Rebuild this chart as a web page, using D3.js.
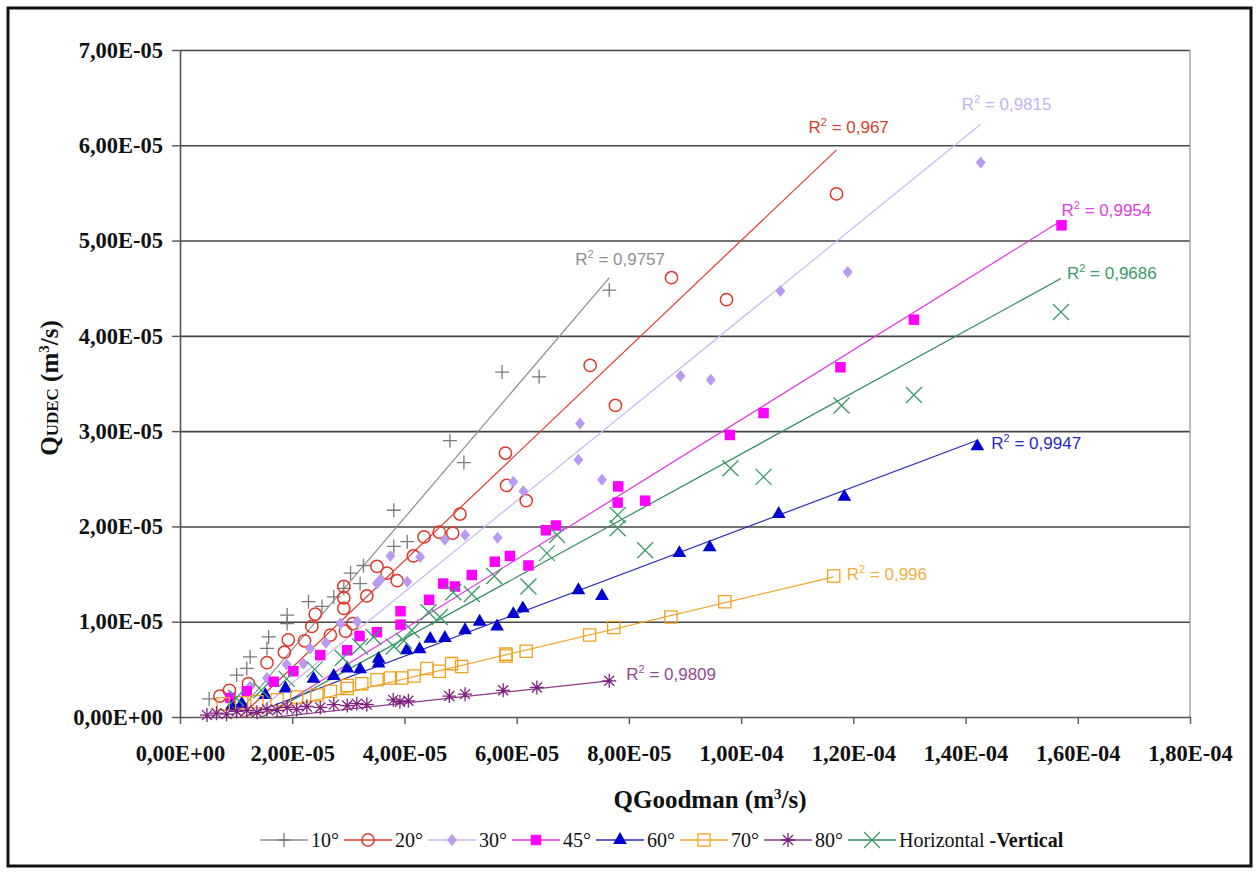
<!DOCTYPE html>
<html>
<head>
<meta charset="utf-8">
<script src="https://cdn.jsdelivr.net/npm/d3@7"></script>
<style>
  body { margin: 0; background: #fff; }
</style>
</head>
<body>
<svg id="chart" width="1259" height="872"></svg>
<script>
var U = 1e-5;

var seriesNames = ["10°", "20°", "30°", "45°", "60°", "70°", "80°", "Horizontal"];
var r2Values = ["0,9757", "0,967", "0,9815", "0,9954", "0,9947", "0,996", "0,9809", "0,9686"];
// linear trendlines y = a*x + b (same units)
var trendSlope = [0.69, 0.56, 0.478, 0.366, 0.222, 0.14, 0.064, 0.323];
var trendIntercept = [-0.67, -0.60, -0.60, -0.54, -0.25, -0.16, -0.11, -0.47];

var xTickValues = [0, 2e-5, 4e-5, 6e-5, 8e-5, 1e-4, 1.2e-4, 1.4e-4, 1.6e-4, 1.8e-4];
var yTickValues = [0, 1e-5, 2e-5, 3e-5, 4e-5, 5e-5, 6e-5, 7e-5];

var pts10 = [[0.52,0.19],[1.01,0.44],[1.19,0.51],[1.25,0.63],[1.55,0.72],[1.58,0.84],[1.91,0.98],[1.91,1.07],
  [2.29,1.21],[2.53,1.16],[2.74,1.26],[2.92,1.35],[3.04,1.51],[3.21,1.40],[3.27,1.59],[3.81,1.79],[4.05,1.84],
  [3.81,2.17],[4.81,2.90],[5.06,2.67],[5.74,3.62],[6.40,3.57],[7.65,4.48]];
var pts20 = [[0.71,0.22],[0.88,0.28],[1.22,0.35],[1.55,0.57],[1.86,0.68],[1.93,0.81],[2.22,0.80],[2.35,0.95],
  [2.41,1.08],[2.68,0.86],[2.92,1.14],[2.92,1.25],[2.92,1.37],[2.95,0.90],[3.08,0.98],[3.33,1.27],[3.51,1.58],
  [3.69,1.51],[3.87,1.43],[4.16,1.69],[4.35,1.89],[4.62,1.94],[4.86,1.93],[4.99,2.13],[5.80,2.77],[5.82,2.43],
  [6.17,2.27],[7.31,3.69],[7.76,3.27],[8.76,4.61],[9.74,4.38],[11.70,5.49]];
var pts30 = [[0.90,0.22],[1.25,0.32],[1.55,0.41],[1.90,0.55],[2.20,0.56],[2.32,0.72],[2.60,0.78],[2.86,0.98],
  [3.16,1.00],[3.51,1.40],[3.57,1.44],[3.75,1.69],[4.05,1.42],[4.28,1.68],[4.72,1.86],[5.08,1.91],[5.66,1.88],
  [5.94,2.47],[6.12,2.37],[7.10,2.70],[7.13,3.08],[7.52,2.49],[8.92,3.58],[9.46,3.54],[10.70,4.47],[11.90,4.67],
  [14.27,5.82]];
var pts45 = [[0.90,0.20],[1.19,0.27],[1.67,0.37],[2.02,0.48],[2.50,0.65],[2.98,0.70],[3.20,0.85],[3.51,0.89],
  [3.93,1.11],[3.93,0.97],[4.44,1.23],[4.69,1.40],[4.90,1.37],[5.20,1.49],[5.61,1.63],[5.88,1.69],[6.21,1.59],
  [6.52,1.96],[6.70,2.01],[7.80,2.25],[7.81,2.42],[8.29,2.27],[9.80,2.96],[10.40,3.19],[11.77,3.67],[13.08,4.17],
  [15.71,5.16]];
var pts60 = [[0.92,0.11],[1.10,0.14],[1.52,0.23],[1.88,0.30],[2.38,0.40],[2.74,0.43],[2.98,0.51],[3.21,0.50],
  [3.54,0.61],[3.54,0.56],[4.04,0.70],[4.27,0.71],[4.46,0.82],[4.72,0.83],[5.08,0.91],[5.34,1.00],[5.65,0.95],
  [5.94,1.08],[6.11,1.14],[7.10,1.33],[7.52,1.27],[8.90,1.72],[9.44,1.78],[10.67,2.13],[11.84,2.31],[14.21,2.84]];
var pts70 = [[0.77,0.14],[1.10,0.15],[1.37,0.16],[1.73,0.18],[2.08,0.21],[2.44,0.23],[2.68,0.27],[2.98,0.30],
  [2.98,0.33],[3.24,0.35],[3.51,0.39],[3.75,0.41],[3.95,0.41],[4.17,0.43],[4.40,0.51],[4.62,0.48],[4.84,0.56],
  [5.02,0.53],[5.81,0.66],[5.81,0.64],[6.17,0.69],[7.30,0.86],[7.73,0.94],[8.75,1.05],[9.71,1.21],[11.65,1.48]];
var pts80 = [[0.48,0.02],[0.65,0.04],[0.83,0.03],[1.01,0.06],[1.19,0.07],[1.37,0.05],[1.55,0.08],[1.73,0.07],
  [1.91,0.10],[2.08,0.08],[2.26,0.11],[2.50,0.10],[2.74,0.13],[2.98,0.12],[3.15,0.14],[3.33,0.13],[3.80,0.18],
  [3.92,0.16],[4.07,0.17],[4.80,0.22],[5.08,0.24],[5.76,0.28],[6.36,0.31],[7.65,0.38]];
var ptsHV = [[1.00,0.20],[1.45,0.28],[1.90,0.40],[2.40,0.50],[2.90,0.62],[3.21,0.74],[3.45,0.84],[3.81,0.74],
  [3.99,0.80],[4.13,0.91],[4.43,1.10],[4.63,1.05],[4.87,1.31],[5.20,1.29],[5.60,1.48],[6.21,1.37],[6.54,1.72],
  [6.72,1.91],[7.80,1.98],[7.80,2.12],[8.29,1.75],[9.81,2.61],[10.40,2.52],[11.79,3.27],[13.08,3.38],[15.70,4.25]];

var seriesPoints = [pts10, pts20, pts30, pts45, pts60, pts70, pts80, ptsHV];

// look
var markerColor = ["#7a7a7a", "#e0362c", "#b89af0", "#ff00ff", "#0000d0", "#f0a01e", "#7f1f7f", "#3a9a6a"];
var lineColor   = ["#8c8c8c", "#e03a30", "#c9b8ee", "#e033e0", "#2a2ab8", "#f0a830", "#8a3a8a", "#2f8a5a"];
var labelColor  = ["#8f8f8f", "#d84030", "#c4b4ec", "#e040e0", "#2a2ac0", "#f0b040", "#904a90", "#3a9a6a"];
var markerType  = ["plus", "circle", "diamond", "square", "triangle", "openSquare", "star", "cross"];
var labelOffset = [[-34,-13], [-28,-17], [-19,-14], [0,-5], [14,9], [13,3], [17,-1], [6,0]];

var serif = "'Liberation Serif', 'Times New Roman', serif";
var sans = "'Liberation Sans', Arial, sans-serif";

function fmt(v) {
    if (v === 0) return "0,00E+00";
    var parts = v.toExponential(2).split("e");
    var e = +parts[1];
    return parts[0].replace(".", ",") + "E" + (e < 0 ? "-" : "+") + String(Math.abs(e)).padStart(2, "0");
}

var svg = d3.select("#chart");

var plotLeft = 180, plotRight = 1190, plotTop = 50, plotBottom = 717;

var x = d3.scaleLinear().domain([0, 1.8e-4]).range([plotLeft, plotRight]);
var y = d3.scaleLinear().domain([0, 7e-5]).range([plotBottom, plotTop]);

// outer frame
svg.append("rect")
    .attr("x", 8).attr("y", 8).attr("width", 1243).attr("height", 858)
    .attr("fill", "none").attr("stroke", "#111").attr("stroke-width", 3);

// horizontal gridlines
var grid = svg.append("g")
    .attr("transform", "translate(" + plotLeft + ",0)")
    .call(d3.axisLeft(y).tickValues(yTickValues.slice(1)).tickSize(-(plotRight - plotLeft)).tickFormat(""));
grid.select(".domain").remove();
grid.selectAll("line").attr("stroke", "#444").attr("stroke-width", 1.6);

// right border
svg.append("line")
    .attr("x1", plotRight).attr("x2", plotRight).attr("y1", plotTop).attr("y2", plotBottom)
    .attr("stroke", "#999").attr("stroke-width", 1.3);

// axes
var yAxis = svg.append("g")
    .attr("transform", "translate(" + plotLeft + ",0)")
    .call(d3.axisLeft(y).tickValues(yTickValues).tickSize(8).tickSizeOuter(0).tickPadding(9).tickFormat(fmt));
var xAxis = svg.append("g")
    .attr("transform", "translate(0," + plotBottom + ")")
    .call(d3.axisBottom(x).tickValues(xTickValues).tickSize(7).tickSizeOuter(0).tickPadding(21).tickFormat(fmt));

[yAxis, xAxis].forEach(function(a) {
    a.select(".domain").attr("stroke", "#555").attr("stroke-width", 1.6);
    a.selectAll(".tick line").attr("stroke", "#555").attr("stroke-width", 1.4);
    a.selectAll("text")
        .attr("fill", "#111")
        .style("font-family", serif)
        .style("font-weight", "bold")
        .style("font-size", "22.5px");
});

// axis titles
var xt = svg.append("text")
    .attr("x", 710).attr("y", 808)
    .attr("text-anchor", "middle")
    .style("font-family", serif).style("font-weight", "bold").style("font-size", "25px")
    .attr("fill", "#111");
xt.append("tspan").text("QGoodman (m");
xt.append("tspan").attr("dy", -9).style("font-size", "15px").text("3");
xt.append("tspan").attr("dy", 9).text("/s)");

var yt = svg.append("text")
    .attr("transform", "translate(58,388) rotate(-90)")
    .attr("text-anchor", "middle")
    .style("font-family", serif).style("font-weight", "bold").style("font-size", "25px")
    .attr("fill", "#111");
yt.append("tspan").text("Q");
yt.append("tspan").style("font-size", "17px").text("UDEC");
yt.append("tspan").text(" (m");
yt.append("tspan").attr("dy", -9).style("font-size", "15px").text("3");
yt.append("tspan").attr("dy", 9).text("/s)");

// marker shapes
function markerPath(type) {
    if (type === "plus") return "M-7,0H7M0,-7V7";
    if (type === "cross") return "M-8,-8L8,8M-8,8L8,-8";
    if (type === "star") return "M-7,0H7M0,-7V7M-5,-5L5,5M-5,5L5,-5";
    if (type === "diamond") return "M0,-6L5,0L0,6L-5,0Z";
    if (type === "circle") return d3.symbol(d3.symbolCircle, 118)();
    if (type === "square") return d3.symbol(d3.symbolSquare, 110)();
    if (type === "triangle") return d3.symbol(d3.symbolTriangle, 82)();
    if (type === "openSquare") return d3.symbol(d3.symbolSquare, 150)();
}
function isFilled(type) {
    return type === "diamond" || type === "square" || type === "triangle";
}
function styleMarker(sel, i) {
    var t = markerType[i];
    sel.attr("d", markerPath(t))
        .attr("fill", isFilled(t) ? markerColor[i] : "none")
        .attr("stroke", isFilled(t) ? "none" : markerColor[i])
        .attr("stroke-width", t === "circle" ? 1.5 : 1.3);
}

// clip for trendlines
svg.append("clipPath").attr("id", "plotClip")
    .append("rect").attr("x", plotLeft).attr("y", plotTop)
    .attr("width", plotRight - plotLeft).attr("height", plotBottom - plotTop);

var plot = svg.append("g");

seriesPoints.forEach(function(pts, i) {
    var xs = pts.map(function(d) { return d[0]; });
    var x0 = d3.min(xs), x1 = d3.max(xs);
    var line = d3.line()
        .x(function(d) { return x(d * U); })
        .y(function(d) { return y((trendSlope[i] * d + trendIntercept[i]) * U); });
    plot.append("path")
        .datum([x0, x1])
        .attr("d", line)
        .attr("clip-path", "url(#plotClip)")
        .attr("fill", "none")
        .attr("stroke", lineColor[i])
        .attr("stroke-width", 1.2);
});

seriesPoints.forEach(function(pts, i) {
    plot.append("g").selectAll("path")
        .data(pts)
        .join("path")
        .attr("transform", function(d) { return "translate(" + x(d[0] * U) + "," + y(d[1] * U) + ")"; })
        .call(styleMarker, i);
});

// R2 labels next to the end of each trendline
seriesPoints.forEach(function(pts, i) {
    var xe = d3.max(pts, function(d) { return d[0]; });
    var ye = trendSlope[i] * xe + trendIntercept[i];
    var t = svg.append("text")
        .attr("x", x(xe * U) + labelOffset[i][0])
        .attr("y", y(ye * U) + labelOffset[i][1])
        .style("font-family", sans).style("font-size", "17px")
        .attr("fill", labelColor[i]);
    t.append("tspan").text("R");
    t.append("tspan").attr("dy", -7).style("font-size", "11px").text("2");
    t.append("tspan").attr("dy", 7).text(" = " + r2Values[i]);
});

// legend
var legend = svg.append("g").attr("transform", "translate(0,840)");
var lx = 260;
seriesNames.forEach(function(name, i) {
    var g = legend.append("g");
    g.append("line")
        .attr("x1", lx).attr("x2", lx + 48)
        .attr("stroke", lineColor[i]).attr("stroke-width", 1.3);
    g.append("path")
        .attr("transform", "translate(" + (lx + 24) + ",0)")
        .call(styleMarker, i);
    var txt = g.append("text")
        .attr("x", lx + 51).attr("y", 7)
        .style("font-family", serif).style("font-size", "20px")
        .attr("fill", "#111");
    txt.append("tspan").text(name);
    if (i === seriesNames.length - 1) {
        txt.append("tspan").style("font-weight", "bold").text(" -Vertical");
    }
    lx = lx + 51 + txt.node().getComputedTextLength() + 5;
});
</script>
</body>
</html>
